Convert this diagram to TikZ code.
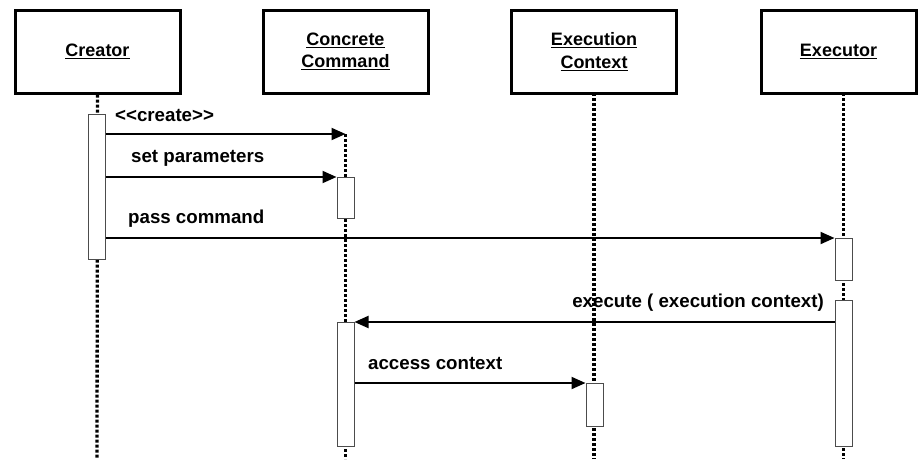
\documentclass[tikz,border=0pt]{standalone}
\usepackage{fontspec}
\setmainfont[Ligatures=NoCommon]{Liberation Sans}
\usetikzlibrary{arrows.meta}
\begin{document}
\begin{tikzpicture}[x=1pt,y=-1pt,
  every node/.style={font=\fontsize{18.7}{22.5}\selectfont\bfseries},
  objbox/.style={draw,line width=3pt,minimum width=165pt,minimum height=83pt,inner sep=0pt,align=center,font=\fontsize{18}{22.5}\selectfont\bfseries},
  lifeline/.style={line width=3.3pt,dash pattern=on 3pt off 2pt},
  act/.style={draw=black!70,fill=white,line width=1pt,minimum width=17pt,inner sep=0pt,anchor=north},
  msg/.style={line width=2pt,-{Triangle[length=14pt,width=12pt]}},
  lbl/.style={anchor=base west,inner sep=0pt}]
\useasboundingbox (0,0) rectangle (922,459);
% objects
\node[objbox] (cr) at (97.5,51.5) {\underline{Creator}};
\node[objbox] (cc) at (345.5,51.5) {\underline{Concrete}\\\underline{Command}};
\node[objbox] (ec) at (594,51.5) {\underline{Execution}\\\underline{Context}};
\node[objbox,minimum width=155pt] (ex) at (838.5,51.5) {\underline{Executor}};
% lifeline ends
\coordinate (ccstart) at (345.5,134);
\coordinate (crEnd) at (97,459);
\coordinate (ccEnd) at (345.5,459);
\coordinate (ecEnd) at (594,459);
\coordinate (exEnd) at (843.5,459);
\coordinate (exTop) at (843.5,93);
\coordinate (ecTop) at (594,93);
\draw[lifeline] (cr.south) -- (crEnd);
\draw[lifeline] (ccstart) -- (ccEnd);
\draw[lifeline] (ecTop) -- (ecEnd);
\draw[lifeline] (exTop) -- (exEnd);
% activations
\node[act,minimum height=145pt] (a1) at (96.5,114) {};
\node[act,minimum height=41pt] (a2) at (345.5,177) {};
\node[act,minimum height=124pt] (a3) at (345.5,322) {};
\node[act,minimum height=43pt] (a4) at (594.5,383) {};
\node[act,minimum height=42pt] (e1) at (843.5,238) {};
\node[act,minimum height=146pt] (e2) at (843.5,300) {};
% messages
\draw[msg] (ccstart -| a1.east) -- (ccstart);
\draw[msg] (a2.north west -| a1.east) -- (a2.north west);
\draw[msg] (e1.north west -| a1.east) -- (e1.north west);
\draw[msg] (a3.north east -| e2.west) -- (a3.north east);
\draw[msg] (a4.north west -| a3.east) -- (a4.north west);
% labels
\node[lbl] (l1) at (115,121) {{<}{<}create{>}{>}};
\node[lbl] (l2) at (131,162) {set parameters};
\node[lbl] (l3) at (128,223) {pass command};
\node[anchor=base east,inner sep=0pt] (l4) at (824,307) {execute ( execution context)};
\node[lbl] (l5) at (368,369) {access context};
\end{tikzpicture}
\end{document}
